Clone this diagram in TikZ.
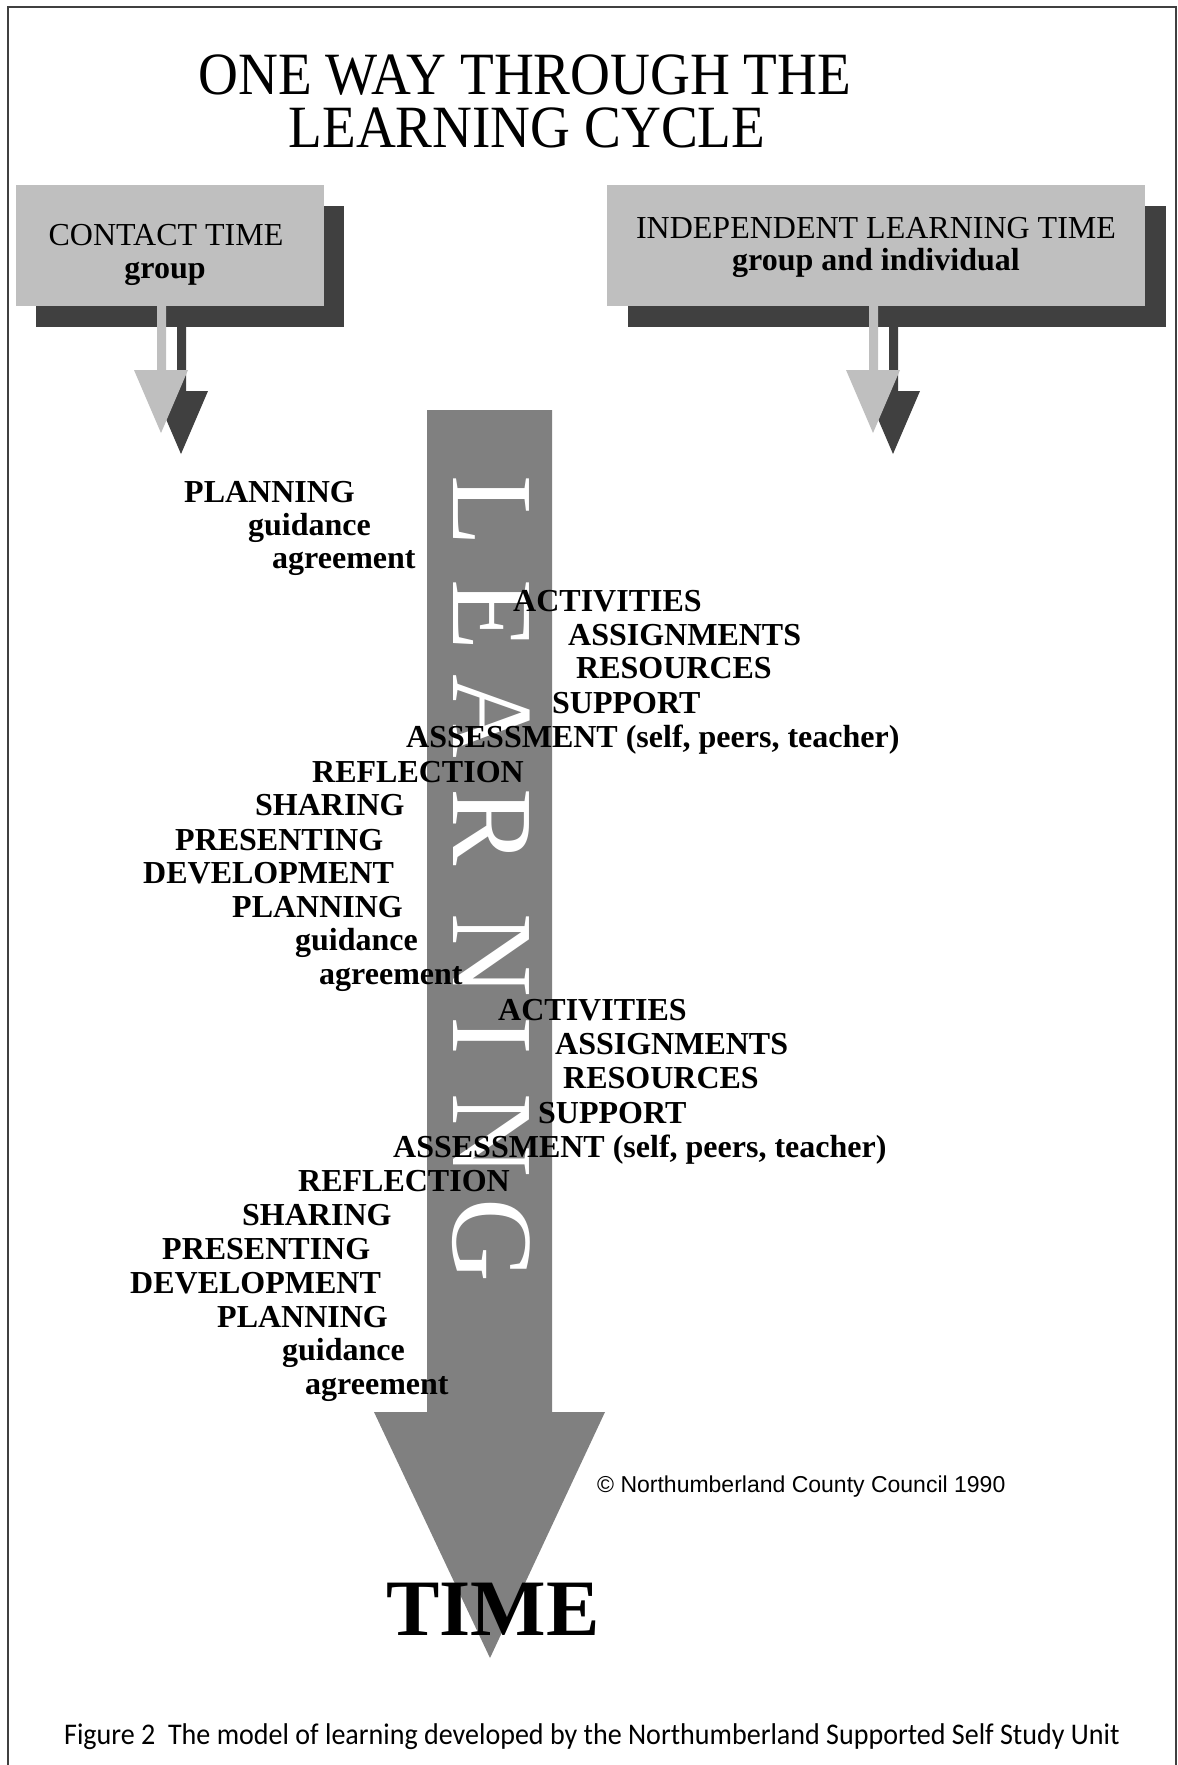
\documentclass[tikz,border=0pt]{standalone}
\usepackage{fontspec}
\usepackage{graphicx}
\usepackage{tikz}
\usepackage{xcolor}
\setmainfont{Liberation Serif}
\newfontfamily\copyfont{Liberation Sans}
\newfontfamily\captionfont{Carlito}

\definecolor{boxgray}{gray}{0.75}
\definecolor{shadowgray}{gray}{0.25}
\definecolor{arrowgray}{gray}{0.5}

\begin{document}
\begin{tikzpicture}[x=1pt, y=-1pt,
    stage/.style={anchor=base west, inner sep=0pt, font=\fontsize{32}{34}\selectfont\bfseries},
    boxtext/.style={anchor=base, inner sep=0pt, font=\fontsize{32}{34}\selectfont},
    heading/.style={anchor=base, inner sep=0pt, text height=40pt, text depth=0pt, font=\fontsize{60}{64}\selectfont},
    letter/.style={anchor=base, inner sep=0pt, rotate=-90, text=white, font=\fontsize{116}{120}\selectfont}]
    \useasboundingbox (0,0) rectangle (1178,1765);
    % page frame, open at the bottom
    \draw[shadowgray, line width=1.5pt] (8,1765) -- (8,7) -- (1176,7) -- (1176,1765);
    % title
    \node[heading] (title1) at (525,94) {\scalebox{0.92}[1]{ONE WAY THROUGH THE}};
    \node[heading] (title2) at (527,147) {\scalebox{0.92}[1]{LEARNING CYCLE}};
    % contact time box, shadow first
    \fill[shadowgray] (36,206) rectangle (344,327);
    \fill[shadowgray] (177,327) -- (177,391) -- (154,391) -- (181,454) -- (208,391) -- (186,391) -- (186,327) -- cycle;
    \fill[boxgray] (16,185) rectangle (324,306);
    \fill[boxgray] (157,306) -- (157,370) -- (134,370) -- (161,433) -- (188,370) -- (166,370) -- (166,306) -- cycle;
    \node[boxtext] (contact) at (166,245) {CONTACT TIME};
    \node[boxtext, font=\fontsize{32}{34}\selectfont\bfseries] (contactsub) at (165,278) {group};
    % independent learning time box
    \fill[shadowgray] (628,206) rectangle (1166,327);
    \fill[shadowgray] (889,327) -- (889,391) -- (866,391) -- (893,454) -- (920,391) -- (898,391) -- (898,327) -- cycle;
    \fill[boxgray] (607,185) rectangle (1145,306);
    \fill[boxgray] (869,306) -- (869,370) -- (846,370) -- (873,433) -- (900,370) -- (878,370) -- (878,306) -- cycle;
    \node[boxtext] (indep) at (876,238) {INDEPENDENT LEARNING TIME};
    \node[boxtext, font=\fontsize{32}{34}\selectfont\bfseries] (indepsub) at (876,270) {group and individual};
    % the big arrow of learning over time
    \fill[arrowgray] (427,410) -- (552,410) -- (552,1412) -- (605,1412) -- (490,1658) -- (374,1412) -- (427,1412) -- cycle;
    \node[letter] (letL) at (453,511) {L};
    \node[letter] (letE) at (453,615) {E};
    \node[letter] (letA) at (453,716) {A};
    \node[letter] (letR) at (453,827) {R};
    \node[letter] (letN) at (453,955) {N};
    \node[letter] (letI) at (453,1036) {I};
    \node[letter] (letNN) at (453,1135) {N};
    \node[letter] (letG) at (453,1240) {G};
    % first way in
    \node[stage] (plan1) at (184,502) {PLANNING};
    \node[stage] (guide1) at (248,535) {guidance};
    \node[stage] (agree1) at (272,568) {agreement};
    % first cycle
    \node[stage] (act1) at (513,611) {ACTIVITIES};
    \node[stage] (assign1) at (568,645) {ASSIGNMENTS};
    \node[stage] (res1) at (576,678) {RESOURCES};
    \node[stage] (supp1) at (552,713) {SUPPORT};
    \node[stage] (assess1) at (406,747) {ASSESSMENT (self, peers, teacher)};
    \node[stage] (refl1) at (312,782) {REFLECTION};
    \node[stage] (share1) at (255,815) {SHARING};
    \node[stage] (pres1) at (175,850) {PRESENTING};
    \node[stage] (dev1) at (143,883) {DEVELOPMENT};
    \node[stage] (plan2) at (232,917) {PLANNING};
    \node[stage] (guide2) at (295,950) {guidance};
    \node[stage] (agree2) at (319,984) {agreement};
    % second cycle
    \node[stage] (act2) at (498,1020) {ACTIVITIES};
    \node[stage] (assign2) at (555,1054) {ASSIGNMENTS};
    \node[stage] (res2) at (563,1088) {RESOURCES};
    \node[stage] (supp2) at (538,1123) {SUPPORT};
    \node[stage] (assess2) at (393,1157) {ASSESSMENT (self, peers, teacher)};
    \node[stage] (refl2) at (298,1191) {REFLECTION};
    \node[stage] (share2) at (242,1225) {SHARING};
    \node[stage] (pres2) at (162,1259) {PRESENTING};
    \node[stage] (dev2) at (130,1293) {DEVELOPMENT};
    \node[stage] (plan3) at (217,1327) {PLANNING};
    \node[stage] (guide3) at (282,1360) {guidance};
    \node[stage] (agree3) at (305,1394) {agreement};
    % time at the tip
    \node[anchor=base west, inner sep=0pt, font=\fontsize{80}{84}\selectfont\bfseries] (time) at (386,1635) {TIME};
    \node[anchor=base west, inner sep=0pt, font=\copyfont\fontsize{23}{25}\selectfont] (copy) at (597,1492) {© Northumberland County Council 1990};
    \node[anchor=base west, inner sep=0pt, font=\captionfont\fontsize{30}{32}\selectfont] (caption) at (64,1744) {\scalebox{0.935}[1]{Figure 2\ \ The model of learning developed by the Northumberland Supported Self Study Unit}};
\end{tikzpicture}
\end{document}
